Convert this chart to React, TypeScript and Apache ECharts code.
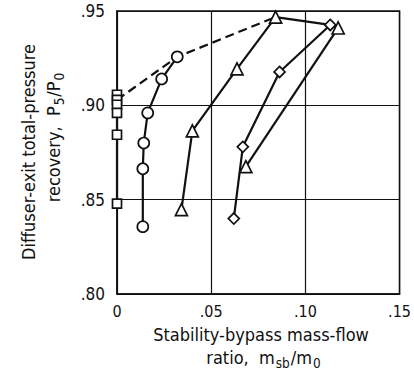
import React, { useEffect, useRef } from "react";
import * as echarts from "echarts";

const xTicks = [0, 0.05, 0.1, 0.15];
const yTicks = [0.8, 0.85, 0.9, 0.95];

// open squares
const squares: [number, number][] = [
  [0, 0.9056], [0, 0.9029], [0, 0.9003], [0, 0.896], [0, 0.8844], [0, 0.8479],
];
// open circles
const circles: [number, number][] = [
  [0.0137, 0.8357], [0.0137, 0.8664], [0.0142, 0.880], [0.0163, 0.896], [0.0237, 0.914], [0.032, 0.9257],
];
// open triangles (left)
const trianglesA: [number, number][] = [
  [0.0342, 0.8447], [0.040, 0.8865], [0.0637, 0.9193], [0.0842, 0.9468],
];
// open diamonds
const diamonds: [number, number][] = [
  [0.062, 0.840], [0.0668, 0.878], [0.0863, 0.9177], [0.1132, 0.9426],
];
// open triangles (right)
const trianglesB: [number, number][] = [
  [0.0684, 0.8675], [0.1174, 0.941],
];
// dashed envelope
const envelopeDashed: [number, number][] = [
  [0, 0.9029], [0.032, 0.9257], [0.0842, 0.9468],
];
// solid top connector
const envelopeSolid: [number, number][] = [
  [0.0842, 0.9468], [0.1132, 0.9426], [0.1174, 0.941],
];

const FONT = "'DejaVu Sans Condensed', 'Liberation Sans Narrow', 'DejaVu Sans', sans-serif";
const INK = "#111";

const fmt = (v: number) => (Math.abs(v) < 1e-9 ? "0" : v.toFixed(2).replace(/^0/, ""));

export default function App() {
  const ref = useRef<HTMLDivElement>(null);
  useEffect(() => {
    if (!ref.current) return;
    const chart = echarts.init(ref.current, null, { renderer: "svg" });
    const markerSeries = (data: [number, number][], symbol: string, size: number) => ({
      type: "line",
      data,
      symbol,
      symbolSize: size,
      showAllSymbol: true,
      clip: false,
      lineStyle: { color: INK, width: 2.2 },
      itemStyle: { color: "#fff", borderColor: INK, borderWidth: 1.7 },
      z: 3,
    });
    const richTitle = (size: number) => ({
      a: { fontFamily: FONT, fontSize: size, fill: INK, lineHeight: 22 },
      s: { fontFamily: FONT, fontSize: size * 0.75, fill: INK, lineHeight: 22, padding: [11, 1, 0, 1] },
    });
    chart.setOption({
      animation: false,
      backgroundColor: "#fff",
      grid: {
        left: 117, right: 9, top: 11, bottom: 89,
        show: true, borderColor: INK, borderWidth: 1.5, backgroundColor: "transparent",
      },
      xAxis: {
        type: "value",
        min: xTicks[0], max: xTicks[xTicks.length - 1], interval: 0.05,
        axisLine: { show: true, lineStyle: { color: INK, width: 1.5 } },
        axisTick: { show: false },
        splitLine: { show: true, lineStyle: { color: INK, width: 1.2 } },
        axisLabel: { color: INK, fontFamily: FONT, fontSize: 16, margin: 9, formatter: fmt },
      },
      yAxis: {
        type: "value",
        min: yTicks[0], max: yTicks[yTicks.length - 1], interval: 0.05,
        axisLine: { show: true, lineStyle: { color: INK, width: 1.5 } },
        axisTick: { show: false },
        splitLine: { show: true, lineStyle: { color: INK, width: 1.2 } },
        axisLabel: { color: INK, fontFamily: FONT, fontSize: 17, margin: 12, formatter: fmt },
      },
      series: [
        {
          type: "line", data: envelopeDashed, symbol: "none", clip: false,
          lineStyle: { color: INK, width: 2.2, type: [9, 5] }, z: 2,
        },
        {
          type: "line", data: envelopeSolid, symbol: "none", clip: false,
          lineStyle: { color: INK, width: 2.2 }, z: 2,
        },
        markerSeries(squares, "rect", 9),
        markerSeries(circles, "circle", 11),
        markerSeries(trianglesA, "triangle", 12),
        markerSeries(diamonds, "diamond", 11),
        markerSeries(trianglesB, "triangle", 12),
      ],
      graphic: [
        {
          type: "group", x: 28, y: 152, rotation: Math.PI / 2,
          children: [
            {
              type: "text", x: 0, y: 0,
              style: { text: "Diffuser-exit total-pressure", font: `18px ${FONT}`, fill: INK, align: "center", verticalAlign: "middle" },
            },
          ],
        },
        {
          type: "group", x: 53, y: 137, rotation: Math.PI / 2,
          children: [
            {
              type: "text", x: 0, y: 0,
              style: {
                text: "{a|recovery,  P}{s|5}{a|/P}{s|0}",
                fill: INK, align: "center", verticalAlign: "middle",
                rich: richTitle(18),
              },
            },
          ],
        },
        {
          type: "text", x: 261, y: 334,
          style: { text: "Stability-bypass mass-flow", font: `18px ${FONT}`, fill: INK, align: "center", verticalAlign: "middle" },
        },
        {
          type: "text", x: 264, y: 357,
          style: {
            text: "{a|ratio,  m}{s|sb}{a|/m}{s|0}",
            fill: INK, align: "center", verticalAlign: "middle",
            rich: richTitle(18),
          },
        },
      ],
    });
    return () => chart.dispose();
  }, []);
  return <div ref={ref} style={{ width: 414, height: 383, position: "absolute", left: 0, top: 0 }} />;
}
